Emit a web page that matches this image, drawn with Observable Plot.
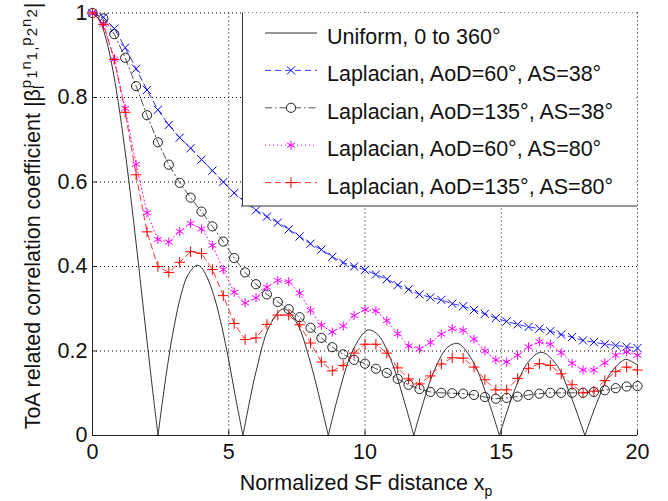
<!DOCTYPE html>
<html><head><meta charset="utf-8">
<script src="https://cdn.jsdelivr.net/npm/d3@7"></script>
<script src="https://cdn.jsdelivr.net/npm/@observablehq/plot@0.6"></script>
<style>
html,body{margin:0;padding:0;background:#fff;}
#chart svg{display:block;}
</style></head><body><div id="chart"></div>
<script>
// ---- data ----
const xs = [0,0.4,0.8,1.2,1.6,2,2.4,2.8,3.2,3.6,4,4.4,4.8,5.2,5.6,6,6.4,6.8,7.2,7.6,8,8.4,8.8,9.2,9.6,10,
            10.4,10.8,11.2,11.6,12,12.4,12.8,13.2,13.6,14,14.4,14.8,15.2,15.6,16,16.4,16.8,17.2,17.6,18,18.4,18.8,19.2,19.6,20];
const lapAoD60AS38 = [1.0,0.99,0.963,0.918,0.868,0.818,0.771,0.735,0.705,0.68,0.653,0.627,0.60,0.574,0.552,0.533,0.518,0.504,0.488,0.471,
                      0.454,0.44,0.423,0.409,0.40,0.392,0.381,0.37,0.356,0.346,0.334,0.327,0.321,0.312,0.306,0.297,0.288,0.278,
                      0.27,0.263,0.257,0.253,0.247,0.239,0.233,0.225,0.221,0.216,0.213,0.21,0.207];
const lapAoD135AS38 = [1.0,0.987,0.95,0.894,0.827,0.758,0.694,0.641,0.598,0.563,0.53,0.495,0.459,0.42,0.386,0.358,0.334,0.316,0.299,0.28,
                       0.255,0.231,0.209,0.192,0.179,0.17,0.158,0.148,0.134,0.12,0.11,0.103,0.101,0.10,0.099,0.096,0.091,0.087,
                       0.089,0.092,0.096,0.099,0.101,0.101,0.101,0.101,0.103,0.107,0.112,0.116,0.117];
const lapAoD60AS80 = [1.0,0.973,0.89,0.774,0.642,0.527,0.464,0.458,0.483,0.502,0.489,0.45,0.393,0.339,0.314,0.326,0.351,0.367,0.364,0.337,
                      0.296,0.261,0.245,0.259,0.284,0.298,0.295,0.272,0.241,0.212,0.205,0.22,0.24,0.253,0.249,0.228,0.20,0.179,
                      0.174,0.19,0.21,0.222,0.216,0.196,0.171,0.155,0.155,0.172,0.19,0.198,0.19];
const lapAoD135AS80 = [1.0,0.973,0.89,0.765,0.617,0.482,0.40,0.386,0.41,0.435,0.431,0.393,0.331,0.265,0.227,0.231,0.263,0.285,0.285,0.262,
                       0.219,0.174,0.153,0.166,0.195,0.216,0.216,0.195,0.16,0.134,0.122,0.141,0.169,0.184,0.183,0.162,0.132,0.108,
                       0.108,0.135,0.159,0.17,0.166,0.146,0.12,0.101,0.105,0.13,0.151,0.162,0.155];
// uniform curve, sampled along the drawn solid line (zeros are the cusps)
const uniformX = [0,0.25,0.5,0.75,1,1.25,1.5,1.75,2,2.25,2.405,2.5,2.75,3,3.25,3.5,3.832,4,4.25,4.5,4.75,5,5.25,5.52,
                  5.75,6,6.5,7.016,7.5,8,8.5,8.654,9,9.5,10,10.173,10.5,11,11.5,11.792,12,12.5,13,13.324,13.5,14,14.5,14.931,
                  15,15.5,16,16.471,17,17.5,18,18.071,18.5,19,19.5,19.616,20];
const uniformY = [1,0.984,0.938,0.864,0.765,0.646,0.512,0.369,0.224,0.083,0,0.048,0.164,0.26,0.333,0.38,0.403,0.397,0.368,0.321,0.256,0.178,0.09,0,
                  0.076,0.151,0.26,0.3,0.266,0.172,0.042,0,0.09,0.194,0.246,0.25,0.237,0.171,0.068,0,0.048,0.147,0.207,0.218,0.215,0.171,0.088,0,
                  0.014,0.109,0.175,0.197,0.17,0.102,0.013,0,0.076,0.147,0.179,0.18,0.167];
const seriesNames = ["Uniform, 0 to 360°","Laplacian, AoD=60°, AS=38°","Laplacian, AoD=135°, AS=38°","Laplacian, AoD=60°, AS=80°","Laplacian, AoD=135°, AS=80°"];
const xTicks = [0,5,10,15,20];
const yTicks = [0,0.2,0.4,0.6,0.8,1];

// ---- tables ----
const rows = ys => xs.map((x,i)=>({x, y: ys[i]}));
const uniformRows = [];
{ let lobe = 0;
  uniformX.forEach((x,i)=>{
    const y = uniformY[i];
    uniformRows.push({x, y, lobe});
    if (y === 0 && i > 0) { lobe++; uniformRows.push({x, y, lobe}); }
  });
}

const W=668,H=501,mL=92,mR=31,mT=12.5,mB=66;
const fH = H-mT-mB, fW = W-mL-mR;
const FONT = "'Liberation Sans', Arial, Helvetica, sans-serif";
const FS = 21.5;

const styles = [
  {stroke:"#1a1a1a", dash:null, width:0.9, symbol:null},
  {stroke:"#0000ff", dash:"6,4", width:0.8, symbol:"times", r:3.8},
  {stroke:"#222222", dash:"7,3,1.5,3", width:0.8, symbol:"circle", r:4.6},
  {stroke:"#ff00ff", dash:"1,3", width:1, symbol:"asterisk", r:4.3},
  {stroke:"#ff0000", dash:"6,4", width:0.8, symbol:"plus", r:3.5}
];
const lapData = [lapAoD60AS38, lapAoD135AS38, lapAoD60AS80, lapAoD135AS80];

const marks = [
  Plot.ruleX(xTicks.slice(1), {stroke:"#000", strokeDasharray:"1,3", strokeWidth:1}),
  Plot.ruleY(yTicks.slice(1), {stroke:"#000", strokeDasharray:"1,3", strokeWidth:1}),
  Plot.ruleX(xTicks, {stroke:"#222", insetTop: fH-5}),
  Plot.ruleY(yTicks, {stroke:"#222", insetRight: fW-5}),
  Plot.ruleX([0], {stroke:"#222", strokeWidth:1}),
  Plot.ruleY([0], {stroke:"#222", strokeWidth:1}),
  Plot.line(uniformRows, {x:"x", y:"y", z:"lobe", curve:"catmull-rom", stroke:styles[0].stroke, strokeWidth:styles[0].width})
];
lapData.forEach((ys,i)=>{
  const s = styles[i+1];
  const d = rows(ys);
  marks.push(Plot.line(d, {x:"x", y:"y", stroke:s.stroke, strokeWidth:s.width, strokeDasharray:s.dash}));
  marks.push(Plot.dot(d, {x:"x", y:"y", symbol:s.symbol, r:s.r, stroke:s.stroke, fill:"none", strokeWidth:1}));
});
marks.push(Plot.axisX({ticks:xTicks, tickFormat:d=>String(d), tickSize:0, tickPadding:8, fontSize:FS, label:null}));
marks.push(Plot.axisY({ticks:yTicks, tickFormat:d=>String(d), tickSize:0, tickPadding:5, fontSize:FS, label:null}));

const svgEl = Plot.plot({
  width:W, height:H, marginLeft:mL, marginRight:mR, marginTop:mT, marginBottom:mB,
  style:{fontFamily:FONT, fontSize:FS+"px", background:"white", color:"#111"},
  x:{domain:[0,20]}, y:{domain:[0,1]},
  marks
});
document.getElementById("chart").appendChild(svgEl);

// ---- legend, axis labels ----
const svg = d3.select(svgEl);
const g = svg.append("g").attr("font-family", FONT).attr("text-anchor","start");
const lx0 = 242.5, lx1 = 636.5, ly0 = 13, ly1 = 206;
g.append("rect").attr("x",lx0).attr("y",ly0).attr("width",lx1-lx0).attr("height",ly1-ly0).attr("fill","white");
g.append("line").attr("x1",lx0).attr("x2",lx0).attr("y1",12.5).attr("y2",ly1).attr("stroke","#333");
g.append("line").attr("x1",lx0).attr("x2",lx1+0.5).attr("y1",ly1).attr("y2",ly1).attr("stroke","#333");
const symMap = {times:d3.symbolTimes, circle:d3.symbolCircle, asterisk:d3.symbolAsterisk, plus:d3.symbolPlus};
seriesNames.forEach((name,i)=>{
  const s = styles[i];
  const by = 44 + 37.4*i;
  const ly = by - 11;
  g.append("line").attr("x1",265).attr("x2",317).attr("y1",ly).attr("y2",ly)
    .attr("stroke",s.stroke).attr("stroke-width",s.width).attr("stroke-dasharray",s.dash);
  if (s.symbol) {
    g.append("path").attr("transform",`translate(291,${ly})`)
      .attr("d", d3.symbol(symMap[s.symbol], Math.PI*s.r*s.r)())
      .attr("fill", i===2 ? "white" : "none").attr("stroke",s.stroke).attr("stroke-width",1);
  }
  g.append("text").attr("x",327).attr("y",by).attr("text-anchor","start").attr("font-size",FS).attr("fill","#111").text(name);
});

// x label
const xl = g.append("text").attr("x",366).attr("y",490).attr("text-anchor","middle").attr("font-size",FS).attr("fill","#111");
xl.append("tspan").text("Normalized SF distance x");
xl.append("tspan").attr("font-size",14).attr("dy",6).text("p");

// y label
const yl = g.append("text").attr("transform","translate(40,216) rotate(-90)").attr("text-anchor","middle")
  .attr("font-size",21.5).attr("fill","#111");
yl.append("tspan").text("ToA related correlation coefficient |β");
const scripts = [["l",4,0],["p",-13,-3.4],["1",6,0],["n",-6,0],["1",6,0],[",",0,0],["p",-6,0],["2",6,0],["n",-6,0],["2",6,0]];
scripts.forEach(([t,dy,dx])=>{
  yl.append("tspan").attr("font-size",15).attr("dy",dy).attr("dx",dx).attr("letter-spacing",1).text(t);
});
yl.append("tspan").attr("dy",3).text("|");
</script>
</body></html>
